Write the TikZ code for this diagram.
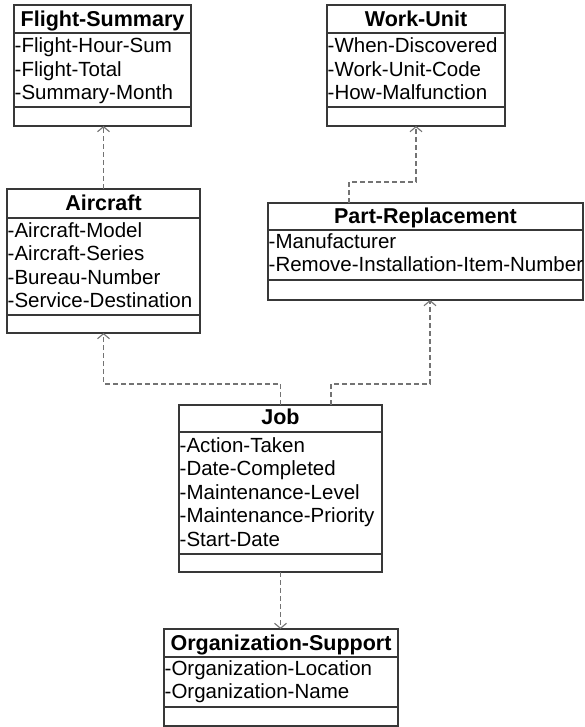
\documentclass[tikz,border=0pt]{standalone}
\usepackage{fontspec}
\setmainfont{Liberation Sans}
\usetikzlibrary{calc,arrows.meta}

% horizontal rule across a class box, #2 points below its top edge
\newcommand\sepline[2]{\draw[boxline] ($(#1.north west)+(0,#2)$) -- ($(#1.north east)+(0,#2)$);}

\begin{document}
\begin{tikzpicture}[x=1pt,y=-1pt,
  boxline/.style={draw=black!78,line width=1.2pt},
  classbox/.style={boxline,fill=white,rectangle,inner sep=0pt,outer sep=0pt},
  ctitle/.style={anchor=base,inner sep=0pt,font=\fontsize{21.5}{24}\selectfont\bfseries},
  attr/.style={anchor=base west,inner sep=0pt,font=\fontsize{20.5}{24}\selectfont},
  dep/.style={draw=black!55,line width=1.1pt,dash pattern=on 5pt off 3pt,
    -{Straight Barb[length=5pt,width=12pt,line width=1.1pt]}}]
\useasboundingbox (0,0) rectangle (585,727);

% Flight-Summary
\node[classbox,minimum width=177pt,minimum height=121pt] (fs) at (102.5,65.5) {};
\sepline{fs}{28}\sepline{fs}{102}
\node[ctitle] (fst) at (102.5,27) {Flight-Summary};
\node[attr] (fs1) at (14.5,53) {-Flight-Hour-Sum};
\node[attr] (fs2) at (14.5,76.5) {-Flight-Total};
\node[attr] (fs3) at (14.5,100) {-Summary-Month};

% Work-Unit
\node[classbox,minimum width=178pt,minimum height=121pt] (wu) at (416,65.5) {};
\sepline{wu}{28}\sepline{wu}{102}
\node[ctitle] (wut) at (416,27) {Work-Unit};
\node[attr] (wu1) at (327.5,53) {-When-Discovered};
\node[attr] (wu2) at (327.5,76.5) {-Work-Unit-Code};
\node[attr] (wu3) at (327.5,100) {-How-Malfunction};

% Aircraft
\node[classbox,minimum width=193pt,minimum height=144pt] (ac) at (103.5,261) {};
\sepline{ac}{29}\sepline{ac}{126}
\node[ctitle] (act) at (103.5,211) {Aircraft};
\node[attr] (ac1) at (7.5,237) {-Aircraft-Model};
\node[attr] (ac2) at (7.5,260.5) {-Aircraft-Series};
\node[attr] (ac3) at (7.5,284) {-Bureau-Number};
\node[attr] (ac4) at (7.5,307.5) {-Service-Destination};

% Part-Replacement
\node[classbox,minimum width=315pt,minimum height=97pt] (pr) at (425.5,251.5) {};
\sepline{pr}{27}\sepline{pr}{77}
\node[ctitle] (prt) at (425.5,223) {Part-Replacement};
\node[attr] (pr1) at (268.5,248) {-Manufacturer};
\node[attr] (pr2) at (268.5,271.5) {-Remove-Installation-Item-Number};

% Job
\node[classbox,minimum width=203pt,minimum height=167pt] (job) at (280.5,488.5) {};
\sepline{job}{27}\sepline{job}{149}
\node[ctitle] (jobt) at (280.5,424) {Job};
\node[attr] (job1) at (179.5,452) {-Action-Taken};
\node[attr] (job2) at (179.5,475.5) {-Date-Completed};
\node[attr] (job3) at (179.5,499) {-Maintenance-Level};
\node[attr] (job4) at (179.5,522.5) {-Maintenance-Priority};
\node[attr] (job5) at (179.5,546) {-Start-Date};

% Organization-Support
\node[classbox,minimum width=234pt,minimum height=97pt] (os) at (281,677.5) {};
\sepline{os}{28}\sepline{os}{78}
\node[ctitle] (ost) at (281,650) {Organization-Support};
\node[attr] (os1) at (164.5,675) {-Organization-Location};
\node[attr] (os2) at (164.5,698.5) {-Organization-Name};

% dependencies
\coordinate (bpr) at (349,182);
\coordinate (bjr) at (331,384);
\draw[dep] (ac.north) -- (ac.north |- fs.south);
\draw[dep] (bpr |- pr.north) -- (bpr) -| (wu.south);
\draw[dep] (job.north) -- ++(0,-21) -| (ac.south);
\draw[dep] (bjr |- job.north) -- (bjr) -| ($(pr.south)+(4.5,0)$);
\draw[dep] (job.south) -- (job.south |- os.north);
\end{tikzpicture}
\end{document}
